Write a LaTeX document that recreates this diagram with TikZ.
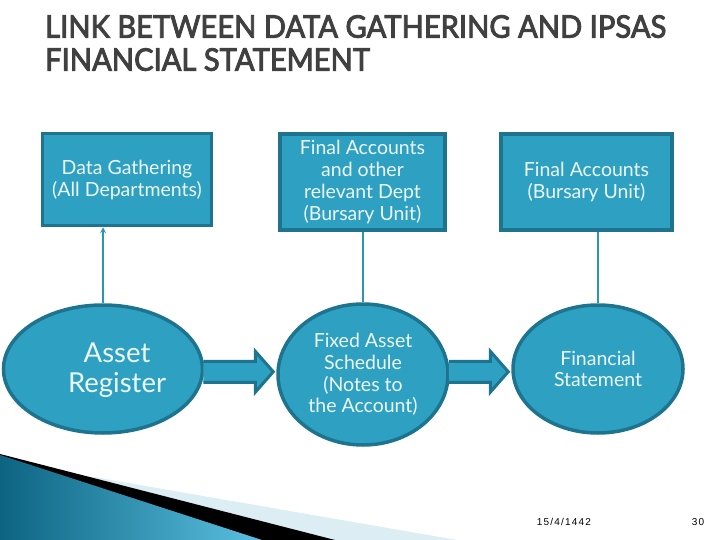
\documentclass[tikz,border=0pt]{standalone}
\usepackage{fontspec}
\setmainfont{Lato}
\newfontfamily\titlefont[FakeStretch=0.94, FakeBold=3]{Lato}
\newfontfamily\footfont[LetterSpace=12]{Liberation Sans}
\usetikzlibrary{shapes.geometric,calc}

\definecolor{boxfill}{RGB}{46,160,193}
\definecolor{boxline}{RGB}{30,116,142}
\definecolor{boxtext}{RGB}{236,247,250}
\definecolor{titlegray}{RGB}{64,64,64}
\definecolor{swooshdark}{RGB}{12,100,130}
\definecolor{swooshlight}{RGB}{92,192,224}
\definecolor{swooshpale}{RGB}{220,237,243}

\begin{document}
\begin{tikzpicture}[x=1pt, y=-1pt, >=stealth,
    box/.style={draw=boxline, fill=boxfill, line width=3.5pt, text=boxtext, align=center,
      inner sep=0pt, font=\fontsize{19.5}{22}\selectfont},
    oval/.style={ellipse, draw=boxline, fill=boxfill, line width=3.5pt, text=boxtext, align=center,
      inner sep=0pt, font=\fontsize{19.5}{21.7}\selectfont},
    link/.style={draw=boxfill!75!boxline, line width=1.6pt},
    blockarrow/.style={draw=boxline, fill=boxfill, line width=3pt, line join=miter}]
  \useasboundingbox (0,0) rectangle (720,540);
  % ---------------------------------------------------------------- the swoosh, bottom left
  \fill[swooshpale] (30,466) -- (457,540) -- (0,540) -- cycle;
  \fill[black] (0,454) -- (335,540) -- (0,540) -- cycle;
  \shade[left color=swooshdark, right color=swooshlight] (0,455) -- (262,540) -- (0,540) -- cycle;
  % ---------------------------------------------------------------- title
  \node[anchor=north west, align=left, inner sep=0pt, text=titlegray,
        font=\titlefont\fontsize{31}{33}\selectfont] (title) at (45,15)
        {LINK BETWEEN DATA GATHERING AND IPSAS\\FINANCIAL STATEMENT};
  % ---------------------------------------------------------------- top row: where the data comes from
  \node[box, minimum width=169, minimum height=92] (dg) at (127,179.5) {Data Gathering\\(All Departments)};
  \node[box, minimum width=165, minimum height=96] (fa) at (362.5,182) {Final Accounts\\and other\\relevant Dept\\(Bursary Unit)};
  \node[box, minimum width=171, minimum height=96] (fb) at (586.5,182) {Final Accounts\\(Bursary Unit)};
  % ---------------------------------------------------------------- bottom row: what it becomes
  \node[oval, minimum width=199, minimum height=128,
        label={[text=boxtext, align=center, xshift=14pt, yshift=-1pt, font=\fontsize{27.5}{30}\selectfont]center:{Asset\\Register}}]
        (ar) at (103,369) {};
  \node[oval, minimum width=170, minimum height=141] (fs) at (363,374.5) {Fixed Asset\\Schedule\\(Notes to\\the Account)};
  \node[oval, minimum width=170, minimum height=128] (st) at (598,369) {Financial\\Statement};
  % the vertical links
  \draw[link, ->] (ar.north) -- (ar.north |- dg.south);
  \draw[link] (fs.north) -- (fs.north |- fa.south);
  \draw[link] (st.north) -- (st.north |- fb.south);
  % the block arrows along the bottom row
  \foreach \a/\b in {ar/fs, fs/st} {
    \coordinate (m) at ($(\a.east)!0.5!(\b.west)$);
    \draw[blockarrow] ($(\a.east |- m)+(-1,-10.5)$) -- ($(\b.west |- m)+(-21,-10.5)$)
      -- ($(\b.west |- m)+(-21,-20.5)$) -- ($(\b.west |- m)+(-3,0)$)
      -- ($(\b.west |- m)+(-21,20.5)$) -- ($(\b.west |- m)+(-21,10.5)$)
      -- ($(\a.east |- m)+(-1,10.5)$);
  }
  % ---------------------------------------------------------------- footer
  \node[font=\footfont\fontsize{10}{12}\selectfont] (date) at (564,522) {15/4/1442};
  \node[font=\footfont\fontsize{10}{12}\selectfont] (page) at (698,522) {30};
\end{tikzpicture}
\end{document}
